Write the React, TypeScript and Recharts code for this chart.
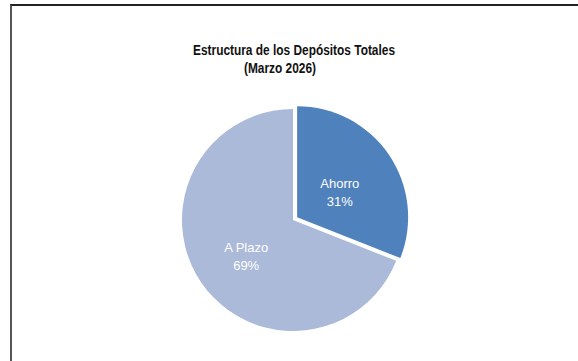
import React from "react";
import { Cell, Pie, PieChart, Sector } from "recharts";

const categories = ["Ahorro", "A Plazo"];
const shares = [31, 69];
const colors = ["#4F81BD", "#AABAD8"];
const explode = [5, 0];

const data = categories.map((name, i) => ({ name, value: shares[i] }));

const RAD = Math.PI / 180;
const FONT = "'Liberation Sans', Arial, sans-serif";

function ExplodedSector(props: any) {
  const off = explode[props.index] ?? 0;
  const dx = off * Math.cos(-props.midAngle * RAD);
  const dy = off * Math.sin(-props.midAngle * RAD);
  return (
    <Sector
      cx={props.cx + dx}
      cy={props.cy + dy}
      innerRadius={props.innerRadius}
      outerRadius={props.outerRadius}
      startAngle={props.startAngle}
      endAngle={props.endAngle}
      fill={props.fill}
      stroke="none"
    />
  );
}

function SliceLabel(props: any) {
  const { cx, cy, midAngle, outerRadius, name, percent } = props;
  const r = outerRadius * 0.51;
  const x = cx + r * Math.cos(-midAngle * RAD);
  const y = cy + r * Math.sin(-midAngle * RAD);
  return (
    <text
      x={x}
      y={y}
      fill="#fff"
      textAnchor="middle"
      fontFamily={FONT}
      fontSize={13}
    >
      <tspan x={x} dy={0}>{name}</tspan>
      <tspan x={x} dy={18}>{`${Math.round(percent * 100)}%`}</tspan>
    </text>
  );
}

// narrow bold title, squeezed horizontally like Arial Narrow
function Title({ x, y, children }: { x: number; y: number; children: string }) {
  return (
    <text
      transform={`translate(${x},${y}) scale(0.85,1)`}
      textAnchor="middle"
      fontFamily={FONT}
      fontWeight="bold"
      fontSize={14}
      fill="#111"
    >
      {children}
    </text>
  );
}

export default function App() {
  return (
    <div style={{ position: "absolute", left: 0, top: 0, width: 578, height: 361, background: "#fff", overflow: "hidden" }}>
      <div
        style={{
          position: "absolute",
          left: 10,
          top: 4,
          width: 568,
          height: 357,
          borderTop: "2px solid #222",
          borderLeft: "2px solid #555",
          boxSizing: "border-box",
        }}
      />
      <div style={{ position: "absolute", left: 0, top: 0 }}>
        <PieChart width={578} height={361} margin={{ top: 0, right: 0, bottom: 0, left: 0 }}>
          <Title x={294} y={55}>Estructura de los Depósitos Totales</Title>
          <Title x={280} y={73}>(Marzo 2026)</Title>
          <Pie
            data={data}
            dataKey="value"
            nameKey="name"
            cx={293}
            cy={220}
            outerRadius={111}
            startAngle={90}
            endAngle={-270}
            shape={ExplodedSector}
            label={SliceLabel}
            labelLine={false}
            isAnimationActive={false}
          >
            {data.map((d, i) => (
              <Cell key={d.name} fill={colors[i]} />
            ))}
          </Pie>
        </PieChart>
      </div>
    </div>
  );
}
